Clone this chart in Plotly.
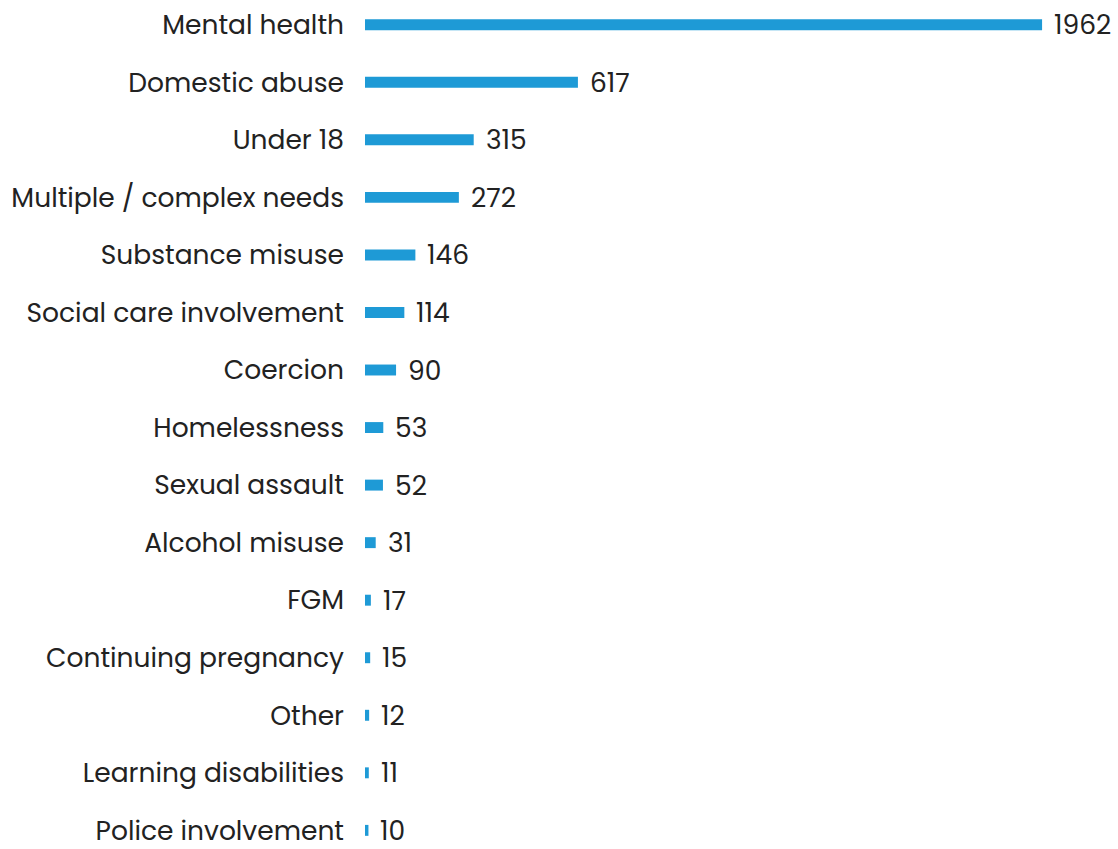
import plotly.graph_objects as go

categories = [
    "Mental health", "Domestic abuse", "Under 18", "Multiple / complex needs",
    "Substance misuse", "Social care involvement", "Coercion", "Homelessness",
    "Sexual assault", "Alcohol misuse", "FGM", "Continuing pregnancy",
    "Other", "Learning disabilities", "Police involvement",
]
counts = [1962, 617, 315, 272, 146, 114, 90, 53, 52, 31, 17, 15, 12, 11, 10]

BAR_COLOR = "#1E9AD6"
TEXT_COLOR = "#222222"
FONT = "Poppins, Open Sans, sans-serif"
FONT_SIZE = 26.5

fig = go.Figure(
    go.Bar(
        x=counts,
        y=categories,
        orientation="h",
        marker=dict(color=BAR_COLOR, line=dict(width=0)),
        width=0.19,
        cliponaxis=False,
        hoverinfo="skip",
    )
)

# value labels just past the end of each bar
for cat, val in zip(categories, counts):
    fig.add_annotation(
        x=val, y=cat, text=str(val),
        xanchor="left", yanchor="middle",
        xshift=11,
        showarrow=False,
        borderpad=0,
        font=dict(size=FONT_SIZE, color=TEXT_COLOR, family=FONT),
    )

fig.update_layout(
    width=1118,
    height=849,
    margin=dict(l=365, r=0, t=0, b=0),
    plot_bgcolor="white",
    paper_bgcolor="white",
    font=dict(family=FONT, size=FONT_SIZE, color=TEXT_COLOR),
    showlegend=False,
)
fig.update_xaxes(range=[0, 2182], visible=False)
fig.update_yaxes(
    type="category",
    categoryorder="array",
    categoryarray=categories,
    range=[14.15, -0.43],
    showgrid=False,
    zeroline=False,
    showline=False,
    ticks="",
    ticklabelstandoff=20,
    tickfont=dict(size=FONT_SIZE, color=TEXT_COLOR, family=FONT),
)

fig.write_html("out.html")
